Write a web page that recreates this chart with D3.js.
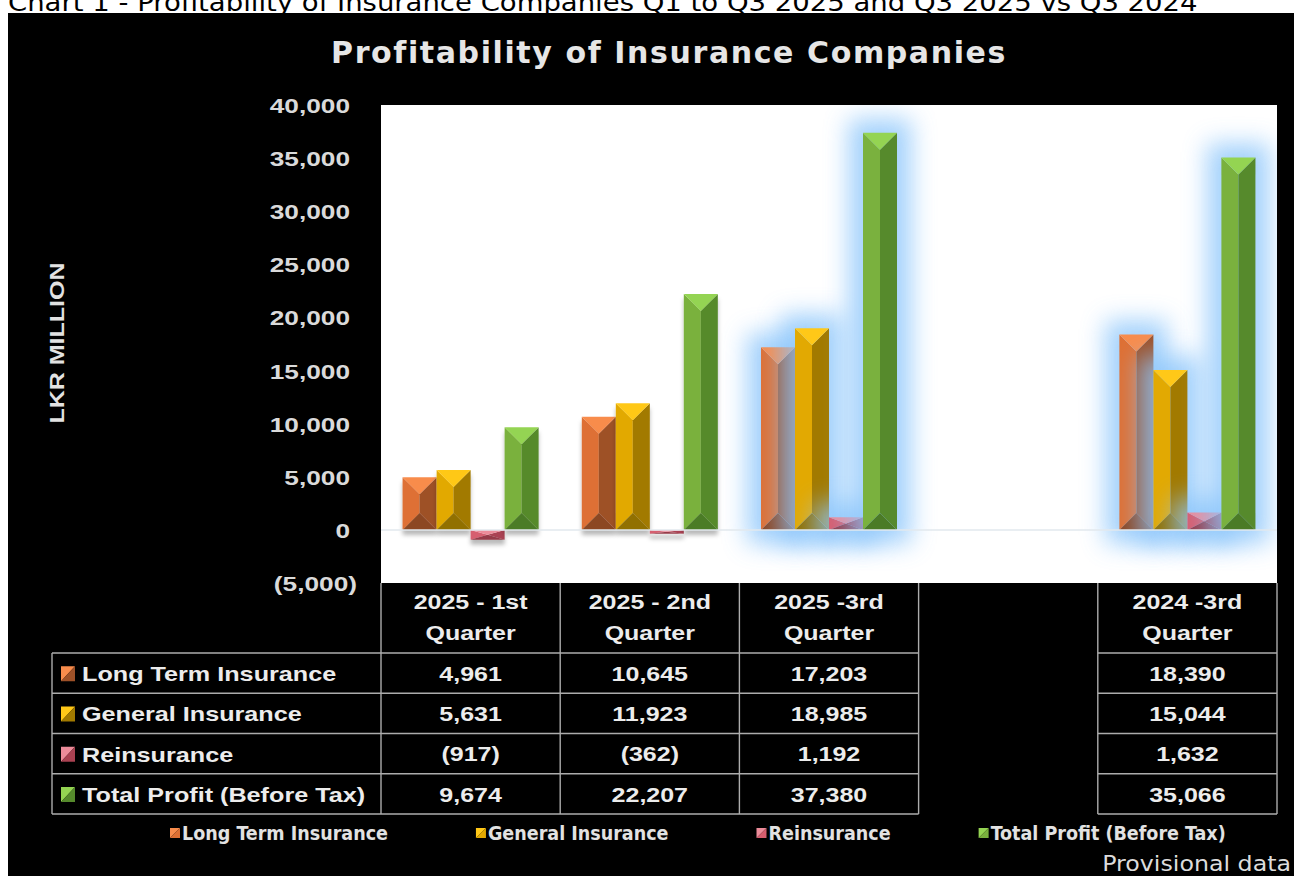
<!DOCTYPE html>
<html>
<head>
<meta charset="utf-8">
<script src="https://cdn.jsdelivr.net/npm/d3@7"></script>
<style>
  html,body{margin:0;padding:0;background:#fff;overflow:hidden;}
  svg{display:block;}
</style>
</head>
<body>
<svg id="chart" width="1294" height="876"></svg>
<script>
// ---------------- DATA ----------------
const captionText = "Chart 1 - Profitability of Insurance Companies Q1 to Q3 2025 and Q3 2025 vs Q3 2024";
const titleText = "Profitability of Insurance Companies";
const yAxisTitle = "LKR MILLION";
const footnote = "Provisional data";
const categories = ["2025 - 1st Quarter", "2025 - 2nd Quarter", "2025 -3rd Quarter", "", "2024 -3rd Quarter"];
const headerLines = [["2025 - 1st", "Quarter"], ["2025 - 2nd", "Quarter"], ["2025 -3rd", "Quarter"], [], ["2024 -3rd", "Quarter"]];
const seriesNames = ["Long Term Insurance", "General Insurance", "Reinsurance", "Total Profit (Before Tax)"];
const longTerm    = [4961, 10645, 17203, null, 18390];
const general     = [5631, 11923, 18985, null, 15044];
const reinsurance = [-917, -362, 1192, null, 1632];
const totalProfit = [9674, 22207, 37380, null, 35066];
const yTicks = [-5000, 0, 5000, 10000, 15000, 20000, 25000, 30000, 35000, 40000];
const highlighted = ["2025 -3rd Quarter", "2024 -3rd Quarter"];

// ---------------- STYLE ----------------
const seriesValues = [longTerm, general, reinsurance, totalProfit];
const palette = [
  {top:"#f88c4c", left:"#de7034", right:"#9e5128", bottom:"#8c4622"},
  {top:"#ffc818", left:"#e2a902", right:"#a27a00", bottom:"#917000"},
  {top:"#ec8c9a", left:"#d65e70", right:"#aa4252", bottom:"#963a48"},
  {top:"#94d452", left:"#7ab13e", right:"#568a2c", bottom:"#4b7b26"}
];
const W = 1294, H = 876;
const plot = {x0:381, x1:1277, y0:105, y1:583};
const tableLeft = 52, tableTop = 653, tableBottom = 814;
const armFont = "'Liberation Sans', Arial, sans-serif";
const txtColor = "#ececec";
const lineColor = "#acacac";

const svg = d3.select("#chart");

function stext(parent, o){
  const tr = `translate(${o.x},${o.y})` + (o.rotate ? ` rotate(${o.rotate})` : "") + ` scale(${o.sx || 1},1)`;
  return parent.append("text")
    .attr("transform", tr)
    .attr("text-anchor", o.anchor || "middle")
    .attr("dominant-baseline", o.baseline || "central")
    .style("font-family", o.family || armFont)
    .style("font-size", o.size + "px")
    .style("font-weight", o.weight || "normal")
    .style("letter-spacing", o.ls ? o.ls + "px" : null)
    .attr("fill", o.fill || txtColor)
    .text(o.text);
}
const fmt = d => d < 0 ? "(" + d3.format(",")(-d) + ")" : d3.format(",")(d);

// ---------------- DEFS ----------------
const defs = svg.append("defs");
const glow = defs.append("filter").attr("id","glow").attr("filterUnits","userSpaceOnUse")
  .attr("x",0).attr("y",0).attr("width",W).attr("height",H);
glow.append("feGaussianBlur").attr("stdDeviation",12);
const shadow = defs.append("filter").attr("id","shadow").attr("filterUnits","userSpaceOnUse")
  .attr("x",0).attr("y",0).attr("width",W).attr("height",H);
shadow.append("feDropShadow").attr("dx",0).attr("dy",5).attr("stdDeviation",2.2)
  .attr("flood-color","#000").attr("flood-opacity",0.28);
defs.append("clipPath").attr("id","plotClip").append("rect")
  .attr("x",plot.x0).attr("y",plot.y0).attr("width",plot.x1-plot.x0).attr("height",plot.y1-plot.y0);

// ---------------- BACKGROUND ----------------
svg.append("rect").attr("width",W).attr("height",H).attr("fill","#fff");
stext(svg, {x:8, y:11, text:captionText, size:25, family:"'DejaVu Sans', Verdana, sans-serif",
  fill:"#000", anchor:"start", baseline:"alphabetic", sx:1.1});
svg.append("rect").attr("x",8).attr("y",13).attr("width",W-8).attr("height",H-13).attr("fill","#000");

// title
stext(svg, {x:669, y:63, text:titleText, size:30, weight:"bold", family:"'DejaVu Sans', Verdana, sans-serif",
  fill:"#e6e6e6", baseline:"alphabetic", ls:1.6});

// plot area
svg.append("rect").attr("x",plot.x0).attr("y",plot.y0)
  .attr("width",plot.x1-plot.x0).attr("height",plot.y1-plot.y0).attr("fill","#fff");

// ---------------- SCALES ----------------
const x = d3.scaleBand().domain(categories).range([plot.x0, plot.x1]).paddingInner(0).paddingOuter(0);
const xs = d3.scaleBand().domain(seriesNames).range([0, x.bandwidth()]).paddingInner(0).paddingOuter(0.635);
const y = d3.scaleLinear().domain([yTicks[0], yTicks[yTicks.length-1]]).range([plot.y1, plot.y0]);

// ---------------- Y AXIS ----------------
const gA = svg.append("g").attr("transform","translate(350,0)")
  .call(d3.axisLeft(y).tickValues(yTicks).tickSize(0).tickPadding(0).tickFormat(fmt));
gA.select(".domain").remove();
gA.selectAll("text")
  .attr("x", null).attr("dy", null)
  .attr("dominant-baseline","central")
  .attr("text-anchor","end")
  .attr("transform", d => `translate(${d < 0 ? 7 : 0},0) scale(1.25,1)`)
  .attr("fill","#dadada")
  .style("font-family", armFont).style("font-size","21px").style("font-weight","bold");

stext(svg, {x:57, y:343, rotate:-90, text:yAxisTitle, size:20, weight:"bold", sx:1.25, fill:"#e2e2e2"});

// ---------------- BARS ----------------
const bars = [];
categories.forEach((c, ci) => {
  seriesNames.forEach((s, si) => {
    const v = seriesValues[si][ci];
    if (v === null || v === undefined) return;
    bars.push({cat:c, ci, s, si, v, hi: highlighted.includes(c)});
  });
});

const barLayer = svg.append("g").attr("clip-path","url(#plotClip)");
function pts(a){ return a.map(p => p.join(",")).join(" "); }

bars.forEach(b => {
  const xL = x(b.cat) + xs(b.s), w = xs.bandwidth(), xR = xL + w, xM = xL + w/2;
  const yT = Math.min(y(0), y(b.v)), yB = Math.max(y(0), y(b.v));
  const h = yB - yT;
  const d = Math.min(w/2, h/2);
  const col = palette[b.si];
  if (b.hi) {
    barLayer.append("rect").attr("x", xL-14).attr("y", yT-14).attr("width", w+28).attr("height", h+28)
      .attr("fill","#8cc6fb").attr("opacity",0.8).attr("filter","url(#glow)");
  }
  const g = barLayer.append("g");
  if (!b.hi) g.attr("filter","url(#shadow)");
  g.append("polygon").attr("points", pts([[xL,yT],[xM,yT+d],[xM,yB-d],[xL,yB]])).attr("fill", col.left);
  g.append("polygon").attr("points", pts([[xR,yT],[xR,yB],[xM,yB-d],[xM,yT+d]])).attr("fill", col.right);
  g.append("polygon").attr("points", pts([[xL,yB],[xR,yB],[xM,yB-d]])).attr("fill", col.bottom);
  g.append("polygon").attr("points", pts([[xL,yT],[xR,yT],[xM,yT+d]])).attr("fill", col.top);
});

// zero line
svg.append("line").attr("x1",plot.x0).attr("x2",plot.x1).attr("y1",y(0)).attr("y2",y(0))
  .attr("stroke","#e2e8ee").attr("stroke-width",1.5);

// ---------------- DATA TABLE ----------------
const rowY = d3.scaleBand().domain(seriesNames).range([tableTop, tableBottom]);
const grid = svg.append("g").attr("stroke", lineColor).attr("stroke-width", 1.4);
const colEdges = categories.map(c => x(c)).concat([plot.x1]);
grid.selectAll("line.v").data(colEdges).join("line").attr("class","v")
  .attr("x1", d => d).attr("x2", d => d).attr("y1", plot.y1).attr("y2", tableBottom);
grid.append("line").attr("x1",tableLeft).attr("x2",tableLeft).attr("y1",tableTop).attr("y2",tableBottom);

// horizontal segments skip empty categories
const runs = [];
let cur = null;
categories.forEach((c, i) => {
  if (c === "") { if (cur) { runs.push(cur); cur = null; } return; }
  if (!cur) cur = [i === 0 ? tableLeft : x(c), x(c) + x.bandwidth()];
  else cur[1] = x(c) + x.bandwidth();
});
if (cur) runs.push(cur);
const rowEdges = seriesNames.map(s => rowY(s)).concat([tableBottom]);
rowEdges.forEach(yy => {
  runs.forEach(r => {
    grid.append("line").attr("x1", r[0]).attr("x2", r[1]).attr("y1", yy).attr("y2", yy);
  });
});

// header labels
categories.forEach((c, i) => {
  headerLines[i].forEach((ln, li) => {
    stext(svg, {x: x(c) + x.bandwidth()/2, y: 602 + li*31, text: ln, size:20, weight:"bold", sx:1.25});
  });
});

// row labels + values
seriesNames.forEach((s, si) => {
  const cy = rowY(s) + rowY.bandwidth()/2;
  const col = palette[si];
  const sq = svg.append("g");
  sq.append("polygon").attr("points", pts([[61,cy-7],[75,cy-7],[61,cy+8]])).attr("fill", col.top);
  sq.append("polygon").attr("points", pts([[75,cy-7],[75,cy+8],[61,cy+8]])).attr("fill", col.right);
  stext(svg, {x:82, y:cy+1, text:s, size:20, weight:"bold", sx:1.26, anchor:"start"});
  categories.forEach((c, ci) => {
    const v = seriesValues[si][ci];
    if (v === null || v === undefined) return;
    stext(svg, {x: x(c) + x.bandwidth()/2, y: cy+1, text: fmt(v), size:20, weight:"bold", sx:1.25});
  });
});

// ---------------- LEGEND ----------------
const legend = svg.append("g");
const legFont = "'DejaVu Sans Condensed', 'DejaVu Sans', sans-serif";
let lx = 170;
const legGap = 88;
seriesNames.forEach((s, si) => {
  const col = palette[si];
  const cy = 833;
  legend.append("polygon").attr("points", pts([[lx,cy-5],[lx+10,cy-5],[lx,cy+5]])).attr("fill", col.top);
  legend.append("polygon").attr("points", pts([[lx+10,cy-5],[lx+10,cy+5],[lx,cy+5]])).attr("fill", col.left);
  const t = stext(legend, {x: lx+12, y: cy, text: s, size:19.5, weight:"bold", family: legFont, anchor:"start", fill:"#e2e2e2"});
  const tw = t.node().getComputedTextLength();
  lx = lx + 12 + tw + legGap;
});

// footnote
stext(svg, {x:1291, y:871, text:footnote, size:21, family:"'DejaVu Sans', Verdana, sans-serif",
  anchor:"end", baseline:"alphabetic", sx:1.13, fill:"#dcdcdc"});
</script>
</body>
</html>
